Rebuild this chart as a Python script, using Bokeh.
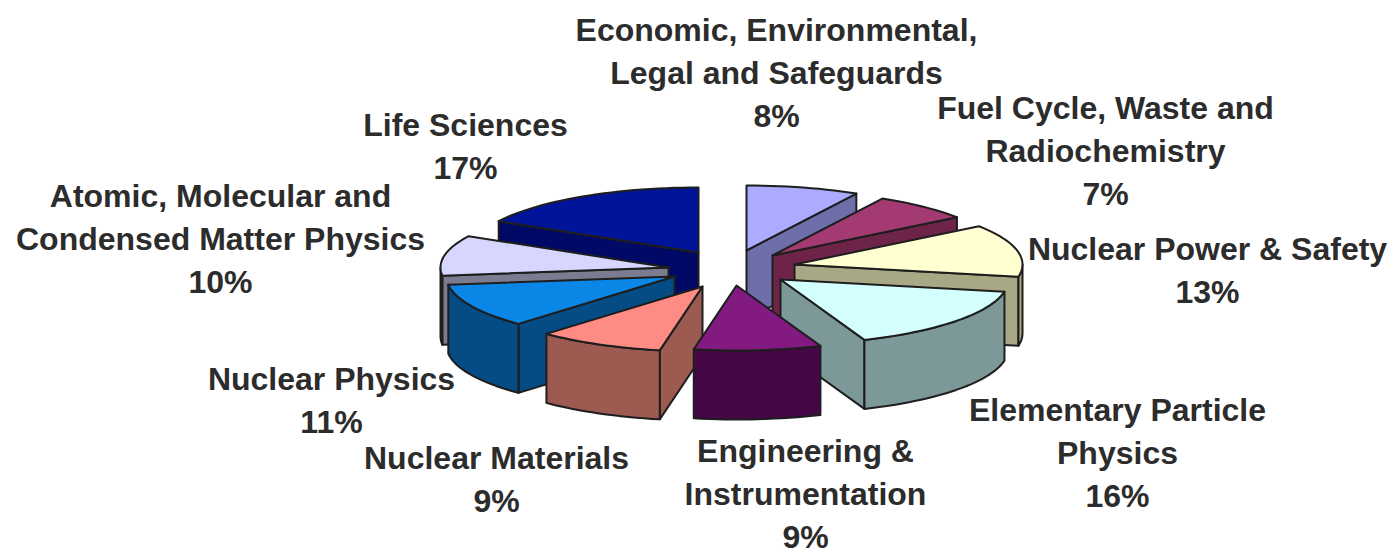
import math
from bokeh.plotting import figure
from bokeh.models import Range1d, ColumnDataSource
from bokeh.core.properties import value
from bokeh.embed import file_html
from bokeh.resources import INLINE

categories = ["Economic, Environmental, Legal and Safeguards", "Fuel Cycle, Waste and Radiochemistry",
              "Nuclear Power & Safety", "Elementary Particle Physics", "Engineering & Instrumentation",
              "Nuclear Materials", "Nuclear Physics", "Atomic, Molecular and Condensed Matter Physics",
              "Life Sciences"]
shares = [8, 7, 13, 16, 9, 9, 11, 10, 17]

top_colors = ["#ABABFF", "#A33A72", "#FFFFD2", "#D4FFFF", "#821A82", "#FF8C84", "#0A86E6", "#D6D6FF", "#00149A"]
side_colors = ["#6E6EA8", "#6E2448", "#A8A884", "#7C9898", "#440644", "#9C5A50", "#064C84", "#7C7C90", "#000A66"]

label_lines = [
    ["Economic, Environmental,", "Legal and Safeguards", "8%"],
    ["Fuel Cycle, Waste and", "Radiochemistry", "7%"],
    ["Nuclear Power & Safety", "13%"],
    ["Elementary Particle", "Physics", "16%"],
    ["Engineering &", "Instrumentation", "9%"],
    ["Nuclear Materials", "9%"],
    ["Nuclear Physics", "11%"],
    ["Atomic, Molecular and", "Condensed Matter Physics", "10%"],
    ["Life Sciences", "17%"],
]

# layout: page pixels of the reference
CX, CY, RX, RY, DEPTH = 722, 268, 228, 65, 69
explode = [(24, -18), (50, -13), (72, -4), (58, 11), (14, 17), (-20, 18), (-48, 8), (-54, -1), (-24, -16)]
label_anchor = [(776, 29), (1105, 107), (1207, 248), (1117, 409), (805, 450),
                (496, 457), (331, 378), (220, 195), (465, 124)]
LINE_STEP = 43.3
draw_order = [8, 0, 1, 7, 2, 6, 5, 3, 4]

p = figure(width=1391, height=554, output_backend="svg", toolbar_location=None,
           x_range=Range1d(0, 1391), y_range=Range1d(554, 0), min_border=0)
p.axis.visible = False
p.grid.visible = False
p.outline_line_color = None
p.background_fill_color = "white"
p.border_fill_color = "white"

total = sum(shares)
edges = [0]
for s in shares:
    edges.append(edges[-1] + s / total * 360)


def pt(ax, ay, deg):
    t = math.radians(deg)
    return ax + RX * math.sin(t), ay - RY * math.cos(t)


def arc(ax, ay, a, b):
    n = max(2, int(abs(b - a) / 2) + 1)
    return [pt(ax, ay, a + (b - a) * i / (n - 1)) for i in range(n)]


def face(points, fill):
    p.patch([q[0] for q in points], [q[1] for q in points], fill_color=fill,
            line_color="#1E1E1E", line_width=2, line_join="round")


for i in draw_order:
    a, b = edges[i], edges[i + 1]
    ax, ay = CX + explode[i][0], CY + explode[i][1]
    for wall, show in ((a, a > 180), (b, b < 180)):
        if show:
            o = pt(ax, ay, wall)
            face([(ax, ay), o, (o[0], o[1] + DEPTH), (ax, ay + DEPTH)], side_colors[i])
    lo, hi = max(a, 90), min(b, 270)
    if hi > lo:
        rim = arc(ax, ay, lo, hi)
        face(rim + [(q[0], q[1] + DEPTH) for q in reversed(rim)], side_colors[i])
    face([(ax, ay)] + arc(ax, ay, a, b), top_colors[i])

xs, ys, txt = [], [], []
for (lx, ly), lines in zip(label_anchor, label_lines):
    for k, line in enumerate(lines):
        xs.append(lx)
        ys.append(ly + k * LINE_STEP)
        txt.append(line)
p.text(x="x", y="y", text="t", source=ColumnDataSource(dict(x=xs, y=ys, t=txt)),
       text_font=value("Liberation Sans"), text_font_size="32px", text_font_style="bold",
       text_color="#2C2C2C", text_align="center", text_baseline="middle")

open("out.html", "w").write(file_html(p, INLINE))
